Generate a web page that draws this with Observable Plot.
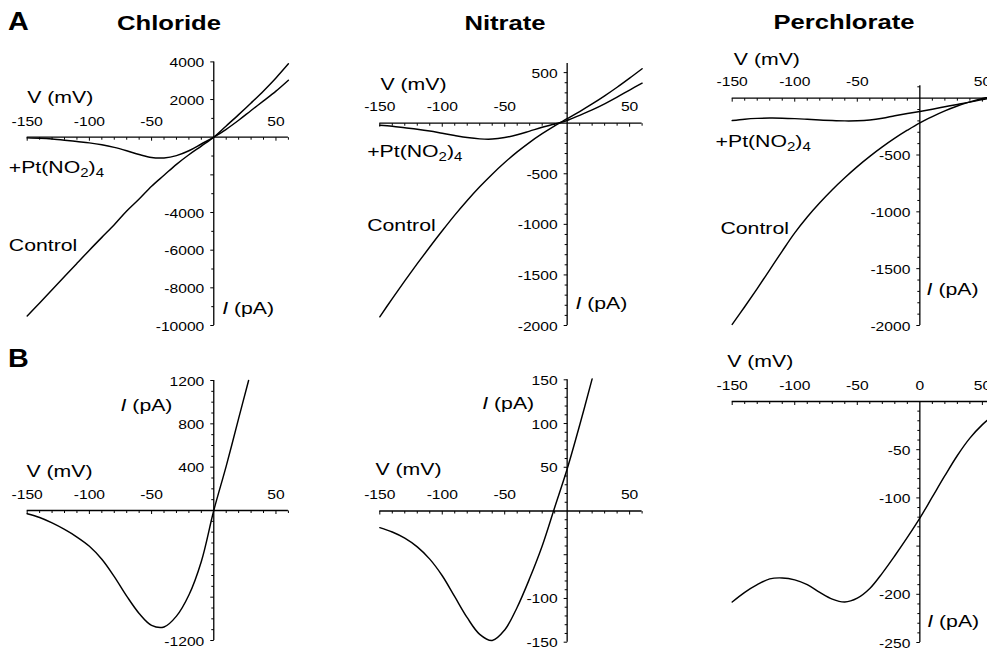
<!DOCTYPE html>
<html><head><meta charset="utf-8">
<script src="https://cdn.jsdelivr.net/npm/d3@7"></script>
<script src="https://cdn.jsdelivr.net/npm/@observablehq/plot@0.6"></script>
<style>
html,body{margin:0;padding:0;background:#fff;overflow:hidden;}
#chart{position:relative;width:987px;height:654px;font-family:"Liberation Sans",Arial,sans-serif;color:#000;overflow:hidden;}
#chart svg{position:absolute;left:0;top:0;}
.ttl{position:absolute;font-weight:bold;white-space:nowrap;line-height:1;}
.c{width:300px;text-align:center;transform:scaleX(1.25);transform-origin:center;}
.lt{transform:scaleX(1.15);transform-origin:left;}
</style></head><body>
<div id="chart">
  <div class="ttl lt" style="left:8px;top:8.8px;font-size:25px">A</div>
  <div class="ttl lt" style="left:8px;top:345.8px;font-size:25px">B</div>
  <div class="ttl c" style="left:19px;top:12.6px;font-size:20.5px">Chloride</div>
  <div class="ttl c" style="left:355px;top:12.6px;font-size:20.5px">Nitrate</div>
  <div class="ttl c" style="left:694px;top:11.8px;font-size:20.5px">Perchlorate</div>
</div>
<script>
// ---------- data ----------
const vGrid = [-150,-140,-130,-120,-110,-100,-90,-80,-70,-60,-50,-40,-30,-20,-10,0,10,20,30,40,50,60];
const vB1 = [-150,-140,-130,-120,-110,-100,-90,-80,-70,-60,-50,-40,-30,-20,-10,0,10,20,28];
const vB2 = [-150,-140,-130,-120,-110,-100,-90,-80,-70,-60,-50,-40,-30,-20,-10,0,10,20];

const chlorideControl = [-9500,-8800,-8100,-7400,-6700,-6000,-5320,-4650,-3920,-3280,-2600,-2020,-1440,-930,-470,0,600,1200,1820,2460,3150,3900];
const chloridePt = [-35,-60,-100,-160,-230,-300,-400,-540,-720,-920,-1080,-1100,-980,-720,-360,0,420,900,1420,1930,2450,3030];
const nitrateControl = [-1914,-1734,-1559,-1389,-1224,-1064,-909,-764,-629,-504,-389,-284,-189,-104,-26,44,115,190,270,355,445,538];
const nitratePt = [-20,-30,-45,-60,-78,-100,-122,-142,-155,-157,-142,-115,-78,-40,-8,27,78,132,192,258,328,396];
const perchlorateControl = [-1990,-1835,-1675,-1510,-1345,-1185,-1045,-920,-805,-700,-602,-512,-429,-352,-282,-217,-162,-112,-69,-33,-3,22];
const perchloratePt = [-197,-185,-178,-175,-176,-180,-186,-192,-197,-200,-199,-192,-177,-155,-135,-117,-97,-76,-55,-35,-12,8];
const chlorideDiff = [-30,-65,-115,-175,-245,-330,-450,-610,-790,-950,-1060,-1075,-975,-780,-470,0,410,850,1200];
const nitrateDiff = [-19,-24,-31,-41,-55,-74,-98,-122,-141,-148,-136,-110,-77,-40,4,48,98,151];
const perchlorateDiff = [-208,-198,-190,-184,-183,-185,-190,-198,-205,-208,-204,-194,-178,-160,-141,-121,-99,-77,-56,-38,-24,-13];

const xLabelsMain = [-150,-100,-50,50];
const xLabelsB3 = [-150,-100,-50,0,50];
const yLabelsA1 = [4000,2000,-4000,-6000,-8000,-10000];
const yLabelsA2 = [500,-500,-1000,-1500,-2000];
const yLabelsA3 = [-500,-1000,-1500,-2000];
const yLabelsB1 = [1200,800,400,-1200];
const yLabelsB2 = [150,100,50,-100,-150];
const yLabelsB3 = [-50,-100,-200,-250];

const labelV = "V (mV)", labelI = "I (pA)", labelPt = "+Pt(NO2)4", labelControl = "Control";

// ---------- layout ----------
const xDomain = [-150, 60];
const xTicksAll = d3.range(-150, 61, 10).filter(d => d !== 0);
const panels = [
  {xr:[26.7,287.9], yd:[-10000,4000], yr:[325,61.4], yAxis:[-10000,4000], step:1000, major:2000,
   xl:xLabelsMain, yl:yLabelsA1, curves:[[vGrid,chlorideControl],[vGrid,chloridePt]],
   notes:[[labelV,-150,1843],[labelI,6.75,-9363],[labelPt,-164.8,-1875],[labelControl,-164.8,-6018]]},
  {xr:[379.3,641.6], yd:[-2000,600], yr:[325,62], yAxis:[-2000,590], step:100, major:500,
   xl:xLabelsMain, yl:yLabelsA2, curves:[[vGrid,nitrateControl],[vGrid,nitratePt]],
   notes:[[labelV,-149.5,330],[labelI,6.6,-1835],[labelPt,-160.1,-336],[labelControl,-160.1,-1061]]},
  {xr:[731.7,994.4], yd:[-2000,100], yr:[325,86.3], yAxis:[-2000,110], step:100, major:500,
   xl:xLabelsMain, yl:yLabelsA3, curves:[[vGrid,perchlorateControl],[vGrid,perchloratePt]],
   notes:[[labelV,-148.7,296],[labelI,5.4,-1736],[labelPt,-163.3,-431],[labelControl,-159.4,-1193]]},
  {xr:[26.7,287.9], yd:[-1200,1200], yr:[640,380], yAxis:[-1200,1200], step:100, major:400,
   xl:xLabelsMain, yl:yLabelsB1, curves:[[vB1,chlorideDiff]],
   notes:[[labelV,-150.6,307],[labelI,-75,923]]},
  {xr:[379.3,641.6], yd:[-150,150], yr:[641.7,379.3], yAxis:[-150,150], step:10, major:50,
   xl:xLabelsMain, yl:yLabelsB2, curves:[[vB2,nitrateDiff]],
   notes:[[labelV,-153.5,40.6],[labelI,-68,116.8]]},
  {xr:[731.7,994.4], yd:[-250,0], yr:[642,401], yAxis:[-250,0], step:10, major:50,
   xl:xLabelsB3, yl:yLabelsB3, curves:[[vGrid,perchlorateDiff]],
   notes:[[labelV,-154,35.6],[labelI,5.9,-234]]}
];

const tickDown = len => ({draw(ctx){ ctx.moveTo(0,0); ctx.lineTo(0,len); }});
const tickLeft = len => ({draw(ctx){ ctx.moveTo(0,0); ctx.lineTo(-len,0); }});

function makePanel(p) {
  const yT = d3.range(p.yAxis[0], p.yAxis[1] + 1e-9, p.step).filter(d => Math.abs(d) > 1e-9);
  const yMajor = yT.filter(d => Math.abs(d % p.major) < 1e-9);
  const yMinor = yT.filter(d => Math.abs(d % p.major) >= 1e-9);
  const xMajor = xTicksAll.filter(d => d % 50 === 0);
  const xMinor = xTicksAll.filter(d => d % 50 !== 0);
  const tk = {fill: "none", stroke: "black", strokeWidth: 1};
  const marks = [
    Plot.ruleY([0], {x1: xDomain[0], x2: xDomain[1], stroke: "black", strokeWidth: 1.3}),
    Plot.ruleX([0], {y1: p.yAxis[0], y2: p.yAxis[1], stroke: "black", strokeWidth: 1.3}),
    Plot.dot(xMinor, {x: d => d, y: 0, symbol: tickDown(2.5), ...tk}),
    Plot.dot(xMajor, {x: d => d, y: 0, symbol: tickDown(3.5), ...tk}),
    Plot.dot(yMinor, {x: 0, y: d => d, symbol: tickLeft(2.5), ...tk}),
    Plot.dot(yMajor, {x: 0, y: d => d, symbol: tickLeft(3.5), ...tk}),
    Plot.text(p.xl, {x: d => d, y: 0, text: d => String(d), dy: -11.7, lineAnchor: "bottom", fontSize: 12.5, fill: "black"}),
    Plot.text(p.yl, {x: 0, y: d => d, text: d => String(d), dx: -9.5, dy: 1, textAnchor: "end", fontSize: 12.5, fill: "black"}),
    ...p.curves.map(([vs, is]) => Plot.line(vs.map((v, k) => ({V: v, I: is[k]})),
      {x: "V", y: "I", curve: "catmull-rom", stroke: "black", strokeWidth: 1.45})),
    Plot.text(p.notes, {x: d => d[1], y: d => d[2], text: d => d[0], textAnchor: "start", lineAnchor: "bottom", fontSize: 17, fill: "black"})
  ];
  const svg = Plot.plot({
    width: 987, height: 654, margin: 0,
    x: {domain: xDomain, range: p.xr, axis: null},
    y: {domain: p.yd, range: p.yr, axis: null},
    marks
  });
  svg.style.background = "transparent";
  svg.style.position = "absolute";
  svg.style.left = "0px";
  svg.style.top = "0px";
  svg.style.maxWidth = "none";
  svg.style.fontFamily = "'Liberation Sans', Arial, sans-serif";
  return svg;
}

const chart = document.getElementById("chart");
panels.forEach(p => chart.appendChild(makePanel(p)));

// rich text: subscripts and italic I
const NS = "http://www.w3.org/2000/svg";
function tspan(parent, txt, attrs) {
  const t = document.createElementNS(NS, "tspan");
  t.textContent = txt;
  for (const k in attrs) t.setAttribute(k, attrs[k]);
  parent.appendChild(t);
}
chart.querySelectorAll("svg text").forEach(el => {
  const s = el.textContent;
  if (s === labelPt) {
    el.textContent = "";
    tspan(el, "+Pt(NO", {});
    tspan(el, "2", {"font-size": "12px", dy: "4"});
    tspan(el, ")", {"font-size": "17px", dy: "-4"});
    tspan(el, "4", {"font-size": "12px", dy: "4"});
  } else if (s === labelI) {
    el.textContent = "";
    tspan(el, "I", {"font-style": "italic"});
    tspan(el, " (pA)", {});
  }
});
// horizontal stretch of the lettering, as in the reference
const STRETCH = 1.25;
chart.querySelectorAll("svg text").forEach(el => {
  const bb = el.getBBox();
  const a = getComputedStyle(el).textAnchor;
  const ax = a === "end" ? bb.x + bb.width : a === "middle" ? bb.x + bb.width / 2 : bb.x;
  const t = el.getAttribute("transform") || "";
  el.setAttribute("transform", `${t} translate(${ax},0) scale(${STRETCH},1) translate(${-ax},0)`);
});
</script>
</body></html>
